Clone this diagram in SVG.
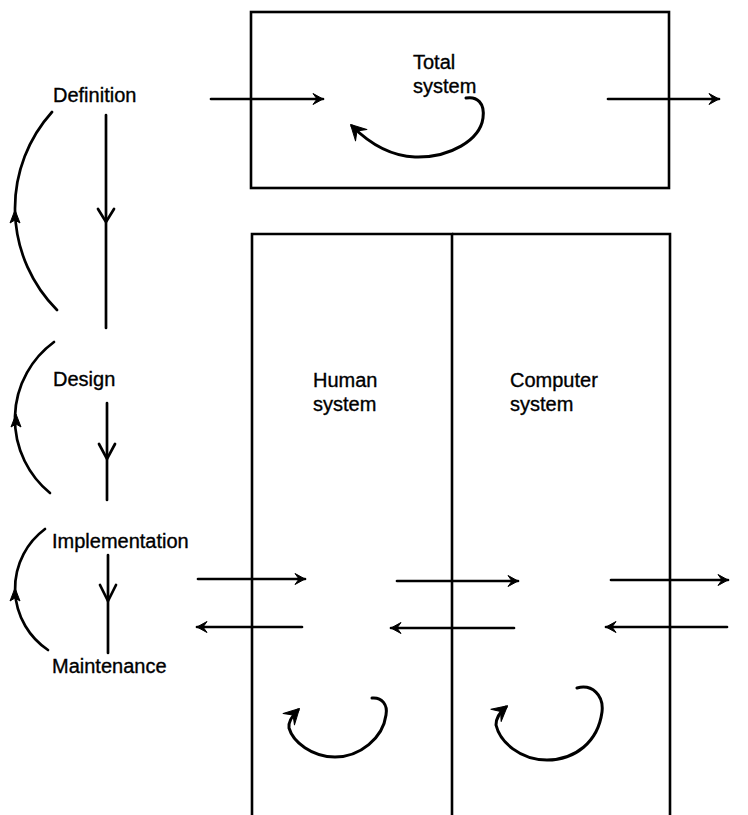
<svg xmlns="http://www.w3.org/2000/svg" width="748" height="815" viewBox="0 0 748 815">
  <style>
    .box { fill: none; stroke: #000; stroke-width: 2.6; }
    .lbl { font-family: "Liberation Sans", Arial, sans-serif; font-size: 20px; fill: #000; stroke: #000; stroke-width: 0.35; }
    .line { fill: none; stroke: #000; stroke-width: 2.7; stroke-linecap: round; }
    .loop { fill: none; stroke: #000; stroke-width: 3; stroke-linecap: round; }
    .head { fill: #000; stroke: #000; stroke-width: 1; stroke-linejoin: round; }
  </style>
  <defs>
    <!-- small filled barbed head for the straight flow arrows -->
    <marker id="tip" markerUnits="userSpaceOnUse" markerWidth="16" markerHeight="14" viewBox="-12 -7 14 14" refX="0" refY="0" orient="auto">
      <path d="M 0 0 L -10 -5.5 L -6 0 L -10 5.5 Z" fill="#000" stroke="#000" stroke-width="1" stroke-linejoin="round"/>
    </marker>
    <!-- heavier head for the feedback loops -->
    <marker id="loopTip" markerUnits="userSpaceOnUse" markerWidth="20" markerHeight="20" viewBox="-16 -10 18 20" refX="0" refY="0" orient="auto">
      <path d="M 2 0 L -13 -8 L -7 0 L -13 8 Z" fill="#000" stroke="#000" stroke-width="1" stroke-linejoin="round"/>
    </marker>
  </defs>

  <!-- life-cycle stages -->
  <g id="definition"><text class="lbl" x="53" y="102">Definition</text></g>
  <g id="design"><text class="lbl" x="53" y="386">Design</text></g>
  <g id="implementation"><text class="lbl" x="52" y="548">Implementation</text></g>
  <g id="maintenance"><text class="lbl" x="52" y="673">Maintenance</text></g>

  <!-- total system box -->
  <g id="total-system">
    <rect class="box" x="251" y="12" width="418" height="176"/>
    <text class="lbl" x="413" y="69">Total</text>
    <text class="lbl" x="413" y="93">system</text>
  </g>

  <!-- human and computer subsystems (open at the bottom) -->
  <g id="human-system">
    <path class="box" d="M 252 830 L 252 234 L 452 234 L 452 830"/>
    <text class="lbl" x="313" y="387">Human</text>
    <text class="lbl" x="313" y="411">system</text>
  </g>
  <g id="computer-system">
    <path class="box" d="M 452 234 L 670 234 L 670 830"/>
    <text class="lbl" x="510" y="387">Computer</text>
    <text class="lbl" x="510" y="411">system</text>
  </g>

  <g id="connectors">
    <!-- downward progression between stages -->
    <path class="line" d="M 106 115 L 106 328"/>
    <path class="line" d="M 98 209 L 106 222 L 114 209"/>
    <path class="line" d="M 107 403 L 107 500"/>
    <path class="line" d="M 99 444 L 107 459 L 115 444"/>
    <path class="line" d="M 108 555 L 108 653"/>
    <path class="line" d="M 100 585 L 108 601 L 116 585"/>

    <!-- iteration back to earlier stages -->
    <path class="line" d="M 52 112 A 144 144 0 0 0 57 310"/>
    <path class="head" d="M 15 210 L 10 223 L 15 220 L 20 223 Z"/>
    <path class="line" d="M 54 342 A 95.5 95.5 0 0 0 50 493"/>
    <path class="head" d="M 16 414 L 11 427 L 16 424 L 21 427 Z"/>
    <path class="line" d="M 45 529 A 74 74 0 0 0 48 650"/>
    <path class="head" d="M 15 588 L 10 601 L 15 598 L 20 601 Z"/>

    <!-- flow through the total system -->
    <path class="line" d="M 211 99 L 323 99" marker-end="url(#tip)"/>
    <path class="line" d="M 608 99 L 719 99" marker-end="url(#tip)"/>
    <path class="loop" d="M 466 98 C 477 96 485 103 483 118 C 480 140 450 158 415 157 C 390 156 368 142 352 126" marker-end="url(#loopTip)"/>

    <!-- exchanges across the subsystem boundaries -->
    <path class="line" d="M 198 579 L 305 579" marker-end="url(#tip)"/>
    <path class="line" d="M 302 627 L 197 627" marker-end="url(#tip)"/>
    <path class="line" d="M 397 581 L 518 581" marker-end="url(#tip)"/>
    <path class="line" d="M 514 628 L 391 628" marker-end="url(#tip)"/>
    <path class="line" d="M 611 580 L 728 580" marker-end="url(#tip)"/>
    <path class="line" d="M 727 627 L 606 627" marker-end="url(#tip)"/>

    <!-- internal feedback in each subsystem -->
    <path class="loop" d="M 372 698 C 382 697 388 705 386 715 C 383 738 360 757 335 757 C 312 757 293 742 289 728 C 288 722 292 716 298 710" marker-end="url(#loopTip)"/>
    <path class="loop" d="M 577 688 C 592 684 604 695 602 712 C 598 742 575 760 547 760 C 520 760 500 742 496 725 C 496 718 500 712 506 707" marker-end="url(#loopTip)"/>
  </g>
</svg>
